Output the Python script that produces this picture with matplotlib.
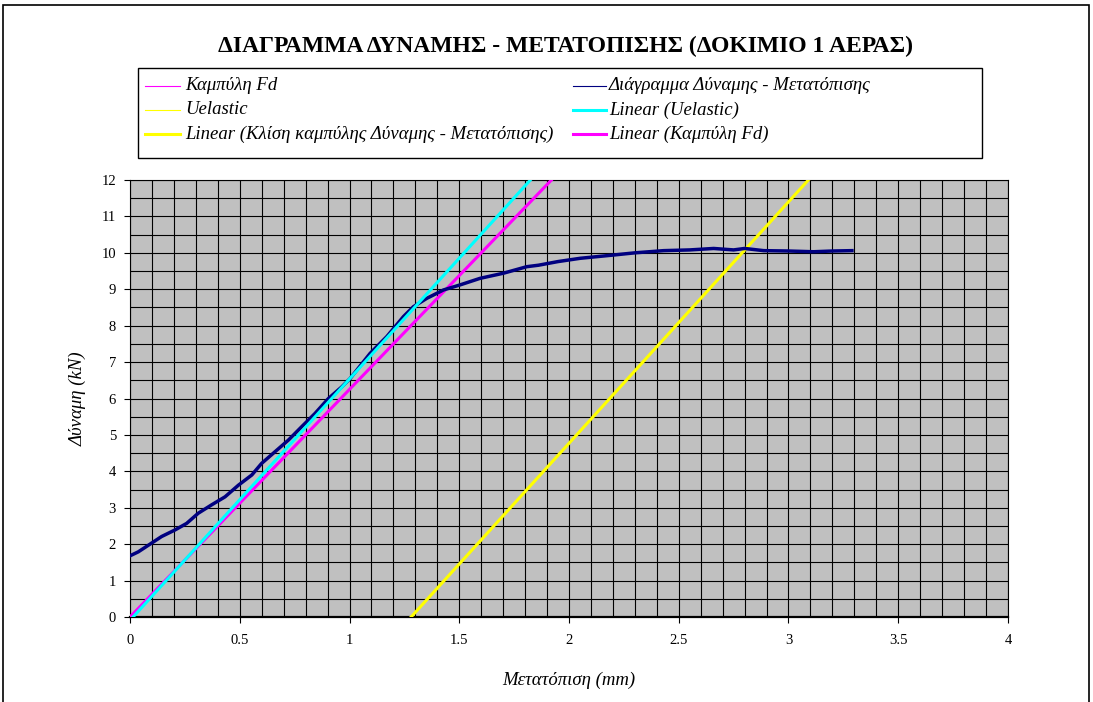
import numpy as np
import matplotlib
matplotlib.use("Agg")
import matplotlib.pyplot as plt
from matplotlib.lines import Line2D
from matplotlib.patches import Rectangle

plt.rcParams['font.family'] = ['Liberation Serif', 'DejaVu Serif']

# ---- data ----
title = "ΔΙΑΓΡΑΜΜΑ ΔΥΝΑΜΗΣ - ΜΕΤΑΤΟΠΙΣΗΣ (ΔΟΚΙΜΙΟ 1 ΑΕΡΑΣ)"
xlabel = "Μετατόπιση (mm)"
ylabel = "Δύναμη (kN)"

curve_disp = [0.0, 0.038, 0.091, 0.144, 0.205, 0.258, 0.311, 0.372, 0.433, 0.494,
              0.555, 0.600, 0.661, 0.722, 0.783, 0.843, 0.904, 0.965, 1.003, 1.094,
              1.170, 1.246, 1.291, 1.352, 1.428, 1.504, 1.595, 1.701, 1.808, 1.861,
              1.95, 2.051, 2.203, 2.30, 2.431, 2.55, 2.659, 2.75, 2.80, 2.887,
              3.0, 3.114, 3.2, 3.289]
curve_force = [1.68, 1.79, 2.00, 2.21, 2.39, 2.57, 2.85, 3.08, 3.30, 3.62,
               3.90, 4.22, 4.54, 4.86, 5.23, 5.59, 6.00, 6.32, 6.55, 7.24,
               7.70, 8.25, 8.52, 8.75, 8.98, 9.12, 9.30, 9.44, 9.62, 9.66,
               9.76, 9.85, 9.94, 10.00, 10.06, 10.08, 10.12, 10.08, 10.12, 10.06,
               10.05, 10.03, 10.05, 10.06]

# thin source series (hidden beneath trendlines)
fd_disp = [0.0, 1.6]
fd_force = [0.0, 10.0]
uel_disp = [1.281, 2.80]
uel_force = [0.0, 10.08]

# trendlines: slope, intercept
fd_slope, fd_int = 6.25, 0.0
uel_slope, uel_int = 6.63, -0.093
slope_slope, slope_int = 6.63, -8.49

xticks = [0, 0.5, 1, 1.5, 2, 2.5, 3, 3.5, 4]
xtick_labels = ["0", "0.5", "1", "1.5", "2", "2.5", "3", "3.5", "4"]
yticks = list(range(0, 13))
ytick_labels = [str(v) for v in yticks]

legend_labels = ["Καμπύλη Fd", "Διάγραμμα Δύναμης - Μετατόπισης",
                 "Uelastic", "Linear (Uelastic)",
                 "Linear (Κλίση καμπύλης Δύναμης - Μετατόπισης)", "Linear (Καμπύλη Fd)"]

MAG = "#FF00FF"; CYA = "#00FFFF"; YEL = "#FFFF00"; NAVY = "#000080"

W, H = 1093, 702
fig = plt.figure(figsize=(W/100, H/100), dpi=100)
ax = fig.add_axes([130/W, 1-617/H, (1008-130)/W, (617-180)/H])
ax.set_facecolor("#C0C0C0")
ax.set_xlim(0, 4)
ax.set_ylim(0, 12)

ax.set_xticks(xticks)
ax.set_xticklabels(xtick_labels)
ax.set_xticks(np.arange(0, 4.001, 0.1), minor=True)
ax.set_yticks(yticks)
ax.set_yticklabels(ytick_labels)
ax.set_yticks(np.arange(0, 12.001, 0.5), minor=True)
ax.grid(True, which='both', color='black', linewidth=0.8)
ax.set_axisbelow(True)
ax.tick_params(which='minor', length=0)
ax.tick_params(which='major', direction='out', length=4, width=0.8, labelsize=10.5)
ax.tick_params(axis='x', pad=8)
ax.tick_params(axis='y', pad=6)
for s in ax.spines.values():
    s.set_color('black'); s.set_linewidth(0.8)
ax.spines['bottom'].set_linewidth(1.6)

xx = np.array([-0.1, 4.1])
ax.plot(fd_disp, fd_force, color=MAG, lw=0.8, zorder=2)
ax.plot(uel_disp, uel_force, color=YEL, lw=0.8, zorder=2)
ax.plot(xx, slope_slope*xx + slope_int, color=YEL, lw=2.2, zorder=3)
ax.plot(xx, fd_slope*xx + fd_int, color=MAG, lw=2.2, zorder=3)
ax.plot(curve_disp, curve_force, color=NAVY, lw=2.5, zorder=4)
ax.plot(xx, uel_slope*xx + uel_int, color=CYA, lw=2.2, zorder=5)

ax.set_xlabel(xlabel, fontsize=13.5, style='italic', labelpad=18)
ax.set_ylabel(ylabel, fontsize=13.5, style='italic', labelpad=11)

fig.text(565/W, 1-46/H, title, ha='center', va='center', fontsize=17, fontweight='bold')

# legend box (manual)
fig.patches.append(Rectangle((138/W, 1-158/H), (982-138)/W, 90/H, transform=fig.transFigure,
                             facecolor='white', edgecolor='black', lw=1.0))
rows = [86, 110, 134]
cols = [(145, 180, 185), (573, 606, 609)]
styles = [(MAG, 0.8), (NAVY, 0.8), (YEL, 0.8), (CYA, 2.2), (YEL, 2.2), (MAG, 2.2)]
for i, lab in enumerate(legend_labels):
    r, c = divmod(i, 2)
    x0, x1, xt = cols[c]
    y = 1 - rows[r]/H
    color, lw = styles[i]
    fig.lines.append(Line2D([x0/W, x1/W], [y, y], transform=fig.transFigure, color=color, lw=lw))
    fig.text(xt/W, y, lab, ha='left', va='center', fontsize=13.5, style='italic')

# outer frame
fig.patches.append(Rectangle((3/W, -0.05), (1089-3)/W, 1.05-5/H, transform=fig.transFigure,
                             facecolor='none', edgecolor='black', lw=1.2, clip_on=False))

fig.savefig("out.png", dpi=100)
